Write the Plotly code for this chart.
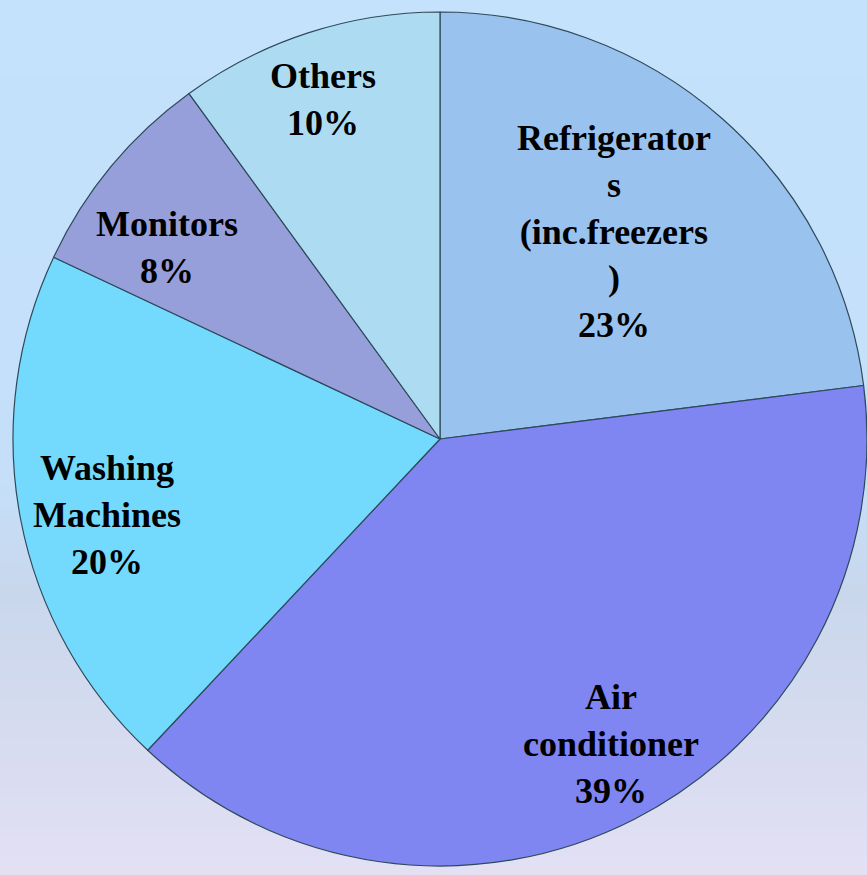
import math
import plotly.graph_objects as go

labels = ["Refrigerator<br>s<br>(inc.freezers<br>)", "Air<br>conditioner", "Washing<br>Machines", "Monitors", "Others"]
values = [23, 39, 20, 8, 10]
colors = ["#99C3EE", "#7F86F2", "#74DAFD", "#979FDB", "#ADDCF2"]

# label placement style: radial fraction and small angular nudge (degrees)
label_rfrac = [0.635, 0.82, 0.80, 0.78, 0.84]
label_dang = [-1.4, -2.3, -2.0, -4.6, -1.0]

W, H = 867, 875
CX, CY, R = 440, 439, 427  # pixel geometry of the pie domain

fig = go.Figure()

# background gradient (top light blue -> bottom lavender)
stops = [(0.0, (196, 226, 252)), (0.55, (197, 223, 249)), (0.68, (201, 215, 236)), (1.0, (227, 224, 244))]
N = 90
for i in range(N):
    t0, t1 = i / N, (i + 1) / N
    tm = (t0 + t1) / 2
    for (a, ca), (b, cb) in zip(stops[:-1], stops[1:]):
        if a <= tm <= b:
            f = (tm - a) / (b - a)
            c = tuple(round(ca[k] + (cb[k] - ca[k]) * f) for k in range(3))
            break
    fig.add_shape(type="rect", xref="paper", yref="paper", x0=0, x1=1,
                  y0=max(0, 1 - t1 - 0.002), y1=1 - t0, line=dict(width=0),
                  fillcolor="rgb(%d,%d,%d)" % c, layer="below")

fig.add_trace(go.Pie(
    labels=labels, values=values, sort=False, direction="clockwise", rotation=0,
    marker=dict(colors=colors, line=dict(color="#2E4A5A", width=1.2)),
    textinfo="none",
    domain=dict(x=[(CX - R) / W, (CX + R) / W], y=[(H - CY - R) / H, (H - CY + R) / H]),
    showlegend=False, hoverinfo="label+percent",
))

total = sum(values)
cum = 0
for lab, v, rf, da in zip(labels, values, label_rfrac, label_dang):
    mid = (cum + v / 2) / total * 360 + da
    cum += v
    px = CX + rf * R * math.sin(math.radians(mid))
    py = CY - rf * R * math.cos(math.radians(mid))
    fig.add_annotation(
        x=px / W, y=1 - py / H, xref="paper", yref="paper",
        text="%s<br>%d%%" % (lab, round(v / total * 100)),
        showarrow=False, xanchor="center", yanchor="middle", align="center",
        font=dict(family="Liberation Serif", size=36, color="black", weight="bold"),
    )

fig.update_layout(
    width=W, height=H, margin=dict(l=0, r=0, t=0, b=0),
    paper_bgcolor="#C4E2FC", plot_bgcolor="rgba(0,0,0,0)",
)

fig.write_html("out.html", config={"displayModeBar": False},
               post_script="document.body.style.margin='0';")
